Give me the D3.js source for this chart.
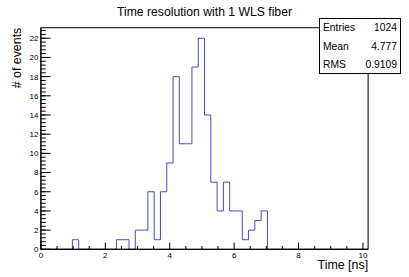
<!DOCTYPE html>
<html>
<head>
<meta charset="utf-8">
<script src="https://cdn.jsdelivr.net/npm/d3@7"></script>
<style>
html,body{margin:0;padding:0;background:#fff;}
svg{display:block;}
text{font-family:"Liberation Sans",Arial,Helvetica,sans-serif;fill:#000;}
</style>
</head>
<body>
<svg id="c" width="409" height="277"></svg>
<script>
// ---- data ----
const title = "Time resolution with 1 WLS fiber";
const xTitle = "Time [ns]";
const yTitle = "# of events";
const xRange = [0, 10.16];
const yRange = [0, 23.1];
const binWidth = 0.1954;
// counts per bin (bins 0..51)
const counts = [
  0,0,0,0,0,1,0,0,0,0,
  0,0,1,1,0,2,2,6,1,6,
  9,18,11,11,19,22,14,7,4,7,
  4,4,1,2,3,4,0,0,0,0,
  0,0,0,0,0,0,0,0,0,0,
  0,0
];
const xMajorTicks = [0,2,4,6,8,10];
const xMinorTicks = [0.5,1,1.5,2.5,3,3.5,4.5,5,5.5,6.5,7,7.5,8.5,9,9.5];
const yMajorTicks = [0,2,4,6,8,10,12,14,16,18,20,22];
const yMinorStep = 0.4;
const statLabels = ["Entries","Mean","RMS"];
const statValues = ["1024","4.777","0.9109"];

// ---- layout ----
const W = 409, H = 277;
const m = {l: W*0.1, r: W*0.1, t: H*0.1, b: H*0.1};
const x0 = m.l, x1 = W - m.r, y0 = H - m.b, y1 = m.t;

const svg = d3.select("#c");
const x = d3.scaleLinear().domain(xRange).range([x0, x1]);
const y = d3.scaleLinear().domain(yRange).range([y0, y1]);

// histogram outline
const pts = counts.map((c,i)=>[xRange[0]+i*binWidth, c]);
pts.push([xRange[0]+counts.length*binWidth, counts[counts.length-1]]);
const line = d3.line().x(d=>x(Math.min(d[0],xRange[1]))).y(d=>y(d[1])).curve(d3.curveStepAfter);
svg.append("path").attr("d", line(pts))
  .attr("fill","none").attr("stroke","#4848c8").attr("stroke-width",1);

// frame
svg.append("rect").attr("x",x0).attr("y",y1).attr("width",x1-x0).attr("height",y0-y1)
  .attr("fill","none").attr("stroke","#000").attr("stroke-width",1);

// x ticks
const xMajLen = 0.03*(y0-y1), xMinLen = xMajLen/2;
const g = svg.append("g").attr("stroke","#000").attr("stroke-width",1);
xMajorTicks.forEach(v=>g.append("line").attr("x1",x(v)).attr("x2",x(v)).attr("y1",y0).attr("y2",y0-xMajLen));
xMinorTicks.forEach(v=>g.append("line").attr("x1",x(v)).attr("x2",x(v)).attr("y1",y0).attr("y2",y0-xMinLen));
// y ticks
const yMajLen = 0.03*(x1-x0), yMinLen = yMajLen/2;
yMajorTicks.forEach(v=>g.append("line").attr("x1",x0).attr("x2",x0+yMajLen).attr("y1",y(v)).attr("y2",y(v)));
d3.range(0, yRange[1], yMinorStep).forEach(v=>g.append("line").attr("x1",x0).attr("x2",x0+yMinLen).attr("y1",y(v)).attr("y2",y(v)));

// axis lines
svg.append("line").attr("x1",x0).attr("x2",x1).attr("y1",y0).attr("y2",y0).attr("stroke","#000");
svg.append("line").attr("x1",x0).attr("x2",x0).attr("y1",y0).attr("y2",y1).attr("stroke","#000");

// tick labels
xMajorTicks.forEach(v=>svg.append("text").attr("x",x(v)).attr("y",y0+8.6)
  .attr("text-anchor","middle").attr("font-size",8).text(v));
yMajorTicks.forEach(v=>svg.append("text").attr("x",x0-2.5).attr("y",y(v)+2.9)
  .attr("text-anchor","end").attr("font-size",8).text(v));

// axis titles
svg.append("text").attr("x",x1).attr("y",268.5).attr("text-anchor","end")
  .attr("font-size",12.4).text(xTitle);
svg.append("text").attr("transform",`translate(20.5,${y1}) rotate(-90)`)
  .attr("text-anchor","end").attr("font-size",12.4).text(yTitle);

// title
svg.append("text").attr("x",W/2).attr("y",15.5).attr("text-anchor","middle")
  .attr("font-size",12.2).text(title);

// stats box
const bx0 = 319.5, bx1 = 400.5, by0 = 18.5, by1 = 73.5;
svg.append("rect").attr("x",bx0).attr("y",by0).attr("width",bx1-bx0).attr("height",by1-by0)
  .attr("fill","#fff").attr("stroke","#000").attr("stroke-width",1);
const rowH = (by1-by0)/statLabels.length;
statLabels.forEach((s,i)=>{
  const cy = by0 + rowH*(i+0.5);
  svg.append("text").attr("x",bx0+3.5).attr("y",cy+3.7).attr("font-size",10.3).text(s);
  svg.append("text").attr("x",bx1-3.5).attr("y",cy+3.7).attr("text-anchor","end").attr("font-size",10.3).text(statValues[i]);
});
</script>
</body>
</html>
